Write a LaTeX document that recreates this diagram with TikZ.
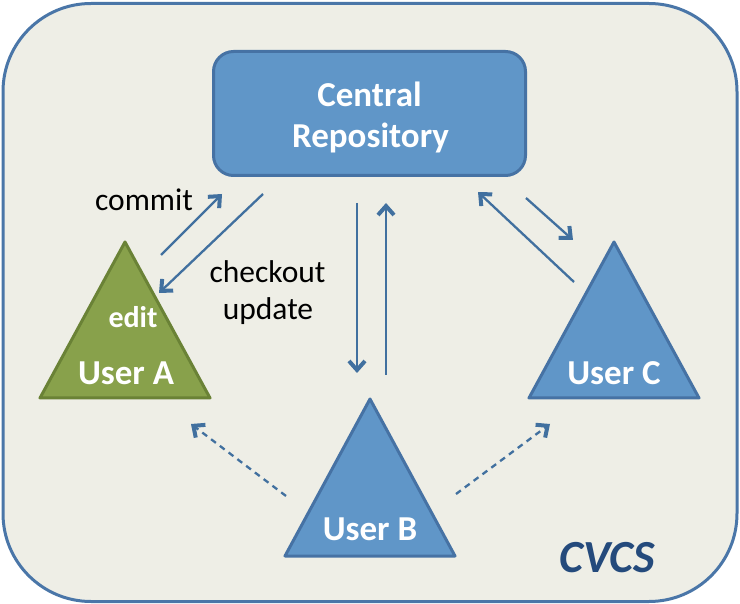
\documentclass[tikz,border=0pt]{standalone}
\usepackage{fontspec}
\setmainfont{Carlito}
\usetikzlibrary{arrows.meta}
\definecolor{bg}{HTML}{EEEEE6}
\definecolor{frame}{HTML}{4A76A8}
\definecolor{bluefill}{HTML}{6096C8}
\definecolor{blueline}{HTML}{4672A4}
\definecolor{greenfill}{HTML}{88A14B}
\definecolor{greenline}{HTML}{6A8236}
\definecolor{arrowc}{HTML}{41709F}
\definecolor{cvcs}{HTML}{244A7C}
\begin{document}
\begin{tikzpicture}[x=1pt,y=-1pt,
  arr/.style={draw=arrowc, line width=2.3pt, -{Straight Barb[length=9pt,width=16pt,line width=4pt]}},
  darr/.style={arr, dash pattern=on 6pt off 5pt},
  tri/.style={line width=3pt, line join=round},
  wlabel/.style={text=white, font=\bfseries\fontsize{35}{41}\selectfont, anchor=base, inner sep=0pt},
  blabel/.style={text=black, font=\fontsize{31.5}{38}\selectfont, anchor=base, inner sep=0pt}]
\useasboundingbox (0,0) rectangle (740,604);
\draw[fill=bg, draw=frame, line width=3pt, rounded corners=88pt] (3,3.5) rectangle (737,601.5);
% central repository
\node[draw=blueline, fill=bluefill, line width=3pt, rounded corners=20pt,
      minimum width=312pt, minimum height=124pt, inner sep=0pt] (repo) at (369.5,113.5) {};
\node[wlabel] (central) at (369.5,107) {Central};
\node[wlabel] (repository) at (370.5,148) {Repository};
% triangles
\draw[tri, fill=greenfill, draw=greenline] (125,242) -- (210,398) -- (40,398) -- cycle;
\draw[tri, fill=bluefill, draw=blueline] (370,399) -- (455,556) -- (285,556) -- cycle;
\draw[tri, fill=bluefill, draw=blueline] (614,242) -- (699,398) -- (529,398) -- cycle;
\node[wlabel, font=\bfseries\fontsize{30}{34}\selectfont] (edit) at (133,328) {edit};
\node[wlabel] (usera) at (126,385) {User A};
\node[wlabel] (userb) at (370,540) {User B};
\node[wlabel] (userc) at (614,385) {User C};
% labels
\node[blabel] (commit) at (144,211) {commit};
\node[blabel] (checkout) at (267.5,283) {checkout};
\node[blabel] (update) at (268,320) {update};
\node[text=cvcs, font=\bfseries\itshape\fontsize{46}{50}\selectfont, anchor=base, inner sep=0pt] (cvcs) at (607,572) {CVCS};
% arrow end points
\coordinate (a1s) at (161,255); \coordinate (a1e) at (222,194);
\coordinate (a2s) at (263,194); \coordinate (a2e) at (159,293);
\coordinate (b1s) at (357,203); \coordinate (b1e) at (357,373);
\coordinate (b2s) at (386,375); \coordinate (b2e) at (386,203);
\coordinate (c1s) at (574,282); \coordinate (c1e) at (478,192);
\coordinate (c2s) at (526,198); \coordinate (c2e) at (573,240);
\coordinate (d1s) at (286,496); \coordinate (d1e) at (191,424);
\coordinate (d2s) at (456,494); \coordinate (d2e) at (550,424);
\draw[arr] (a1s) -- (a1e);
\draw[arr] (a2s) -- (a2e);
\draw[arr] (b1s) -- (b1e);
\draw[arr] (b2s) -- (b2e);
\draw[arr] (c1s) -- (c1e);
\draw[arr] (c2s) -- (c2e);
\draw[darr] (d1s) -- (d1e);
\draw[darr] (d2s) -- (d2e);
\end{tikzpicture}
\end{document}
